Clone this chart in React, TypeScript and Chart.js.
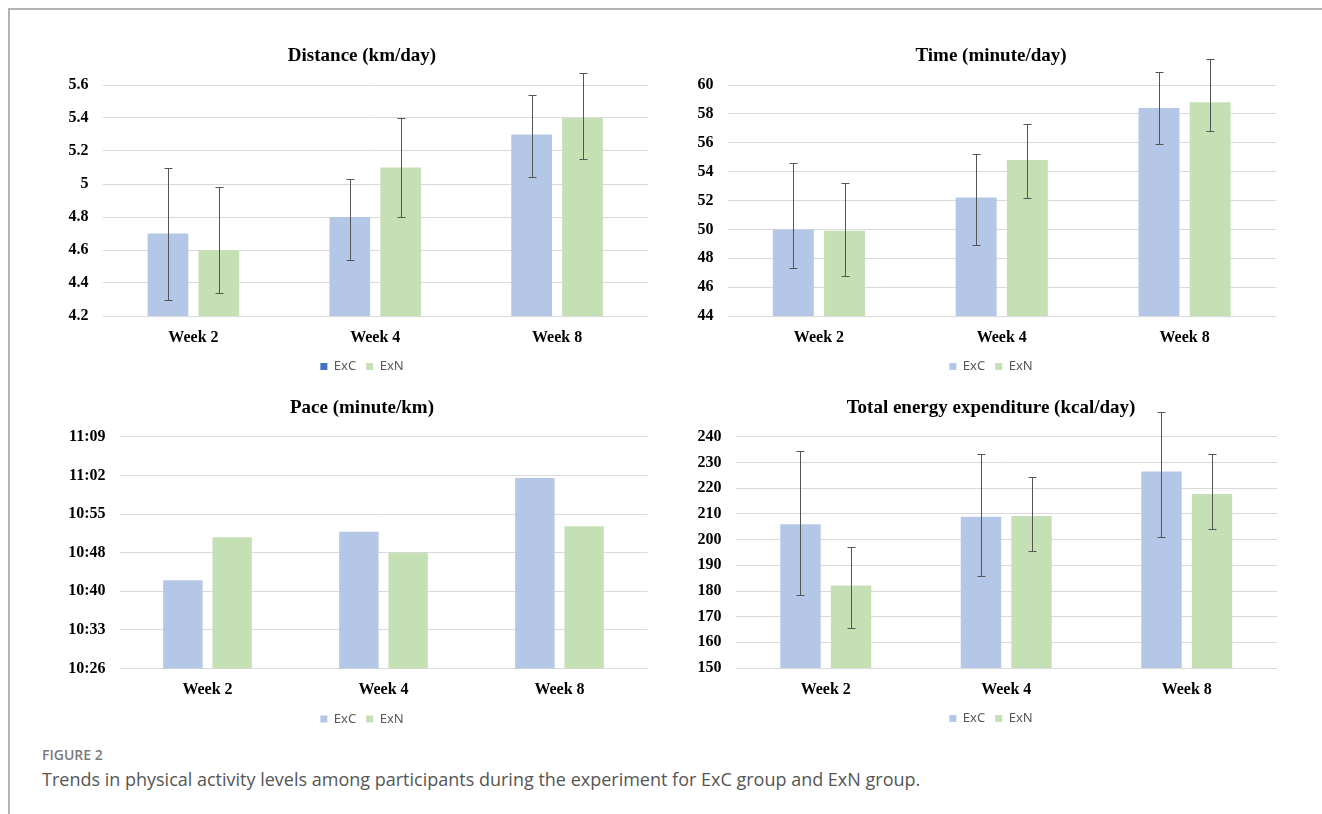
import React, { useEffect, useRef } from "react";
import { Chart } from "chart.js/auto";

// ---------- DATA ----------
const categories = ["Week 2", "Week 4", "Week 8"];
const seriesNames = ["ExC", "ExN"];

// Distance (km/day)
const distExC = [4.7, 4.8, 5.3];
const distExN = [4.6, 5.1, 5.4];
const distExCLow = [4.3, 4.54, 5.04];
const distExCHigh = [5.1, 5.03, 5.54];
const distExNLow = [4.34, 4.8, 5.15];
const distExNHigh = [4.98, 5.4, 5.67];
const distTicks = [4.2, 4.4, 4.6, 4.8, 5.0, 5.2, 5.4, 5.6];
const distTickLabels = ["4.2", "4.4", "4.6", "4.8", "5", "5.2", "5.4", "5.6"];

// Time (minute/day)
const timeExC = [50.0, 52.2, 58.4];
const timeExN = [49.9, 54.8, 58.8];
const timeExCLow = [47.3, 48.9, 55.9];
const timeExCHigh = [54.6, 55.2, 60.9];
const timeExNLow = [46.8, 52.2, 56.8];
const timeExNHigh = [53.2, 57.3, 61.8];
const timeTicks = [44, 46, 48, 50, 52, 54, 56, 58, 60];
const timeTickLabels = ["44", "46", "48", "50", "52", "54", "56", "58", "60"];

// Pace (minute/km), values in seconds (10:26 = 626 s)
const paceExC = [642.4, 651.4, 661.4];
const paceExN = [650.4, 647.5, 652.4];
const paceTicks = [626, 633.17, 640.33, 647.5, 654.67, 661.83, 669];
const paceTickLabels = ["10:26", "10:33", "10:40", "10:48", "10:55", "11:02", "11:09"];

// Total energy expenditure (kcal/day)
const teeExC = [206.0, 208.9, 226.6];
const teeExN = [182.1, 209.2, 217.8];
const teeExCLow = [178.3, 185.7, 201.0];
const teeExCHigh = [234.4, 233.5, 249.6];
const teeExNLow = [165.7, 195.7, 204.1];
const teeExNHigh = [197.0, 224.5, 233.5];
const teeTicks = [150, 160, 170, 180, 190, 200, 210, 220, 230, 240];
const teeTickLabels = ["150", "160", "170", "180", "190", "200", "210", "220", "230", "240"];

// ---------- STYLE ----------
const SERIF = "'Liberation Serif', 'Times New Roman', serif";
const COLOR_EXC = "#b4c7e7";
const COLOR_EXN = "#c5e0b4";
const COLOR_EXC_DARK = "#4472c4";
const GRID = "#d9d9d9";

const errorBarPlugin = {
  id: "errorBars",
  afterDatasetsDraw(chart: any) {
    const { ctx } = chart;
    const yScale = chart.scales.y;
    chart.data.datasets.forEach((ds: any, di: number) => {
      const low = ds.errLow;
      const high = ds.errHigh;
      if (!low || !high) return;
      const meta = chart.getDatasetMeta(di);
      meta.data.forEach((bar: any, i: number) => {
        const x = Math.round(bar.x) + 0.5;
        const yLo = Math.round(yScale.getPixelForValue(low[i])) + 0.5;
        const yHi = Math.round(yScale.getPixelForValue(high[i])) + 0.5;
        ctx.save();
        ctx.strokeStyle = "#555555";
        ctx.lineWidth = 1;
        ctx.beginPath();
        ctx.moveTo(x, yHi);
        ctx.lineTo(x, yLo);
        ctx.moveTo(x - 4, yHi);
        ctx.lineTo(x + 4, yHi);
        ctx.moveTo(x - 4, yLo);
        ctx.lineTo(x + 4, yLo);
        ctx.stroke();
        ctx.restore();
      });
    });
  },
};

type PanelSpec = {
  title: string;
  exc: number[];
  exn: number[];
  excLow?: number[];
  excHigh?: number[];
  exnLow?: number[];
  exnHigh?: number[];
  ticks: number[];
  tickLabels: string[];
  darkLegend?: boolean;
  areaLeft: number;
  areaRight: number;
  areaTop: number;
  areaBottom: number;
  center: number;
};

const TITLE_LINE = 19 * 1.2;
const TITLE_PB = 17.6;
const XAXIS_H = 34;
const LEGEND_H = 33;

function Panel({ spec }: { spec: PanelSpec }) {
  const ref = useRef<HTMLCanvasElement>(null);
  const left = Math.floor(spec.areaLeft - 60);
  const right = Math.ceil(2 * spec.center - left);
  const width = right - left;
  const topExact = spec.areaTop - TITLE_LINE - TITLE_PB;
  const top = Math.floor(topExact);
  const bottomExact = spec.areaBottom + XAXIS_H + LEGEND_H;
  const height = Math.ceil(bottomExact - top);
  const padBottom = top + height - bottomExact;
  const rightAxisWidth = right - spec.areaRight;
  const yWidth = spec.areaLeft - left;

  useEffect(() => {
    const canvas = ref.current;
    if (!canvas) return;
    const chart = new Chart(canvas, {
      type: "bar",
      data: {
        labels: categories,
        datasets: [
          {
            label: seriesNames[0],
            data: spec.exc,
            backgroundColor: COLOR_EXC,
            borderWidth: 0,
            categoryPercentage: 0.56,
            barPercentage: 0.8,
            errLow: spec.excLow,
            errHigh: spec.excHigh,
          } as any,
          {
            label: seriesNames[1],
            data: spec.exn,
            backgroundColor: COLOR_EXN,
            borderWidth: 0,
            categoryPercentage: 0.56,
            barPercentage: 0.8,
            errLow: spec.exnLow,
            errHigh: spec.exnHigh,
          } as any,
        ],
      },
      options: {
        responsive: false,
        maintainAspectRatio: false,
        animation: false,
        events: [],
        layout: { padding: { left: 0, top: 0, right: 0, bottom: padBottom } },
        scales: {
          x: {
            type: "category",
            grid: { display: false, drawTicks: false },
            border: { display: false },
            ticks: {
              color: "#000",
              padding: 12,
              font: { family: SERIF, size: 16, weight: "bold" },
              maxRotation: 0,
            },
            afterFit: (scale: any) => {
              scale.height = XAXIS_H;
            },
          },
          y: {
            type: "linear",
            min: spec.ticks[0],
            max: spec.ticks[spec.ticks.length - 1],
            grid: { color: GRID, lineWidth: 1, drawTicks: false },
            border: { display: false },
            ticks: {
              color: "#000",
              padding: 14,
              font: { family: SERIF, size: 16, weight: "bold" },
              callback: (_v: any, i: number) => spec.tickLabels[i],
            },
            afterBuildTicks: (scale: any) => {
              scale.ticks = spec.ticks.map((v) => ({ value: v }));
            },
            afterFit: (scale: any) => {
              scale.width = yWidth;
            },
          },
          yPad: {
            type: "linear",
            position: "right",
            display: true,
            grid: { display: false, drawTicks: false, drawOnChartArea: false },
            border: { display: false },
            ticks: { display: false },
            afterFit: (scale: any) => {
              scale.width = rightAxisWidth;
            },
          },
        },
        plugins: {
          tooltip: { enabled: false },
          title: {
            display: true,
            text: spec.title,
            color: "#000",
            font: { family: SERIF, size: 19, weight: "bold", lineHeight: 1.2 },
            padding: { top: topExact - top, bottom: TITLE_PB },
          },
          legend: {
            display: true,
            position: "bottom",
            labels: {
              boxWidth: 7,
              boxHeight: 7,
              padding: 10,
              color: "#595959",
              font: { family: "'Noto Sans', sans-serif", size: 13 },
              generateLabels: (c: any) => {
                const items = (Chart as any).defaults.plugins.legend.labels.generateLabels(c);
                items.forEach((it: any, idx: number) => {
                  it.lineWidth = 0;
                  if (idx === 0 && spec.darkLegend) {
                    it.fillStyle = COLOR_EXC_DARK;
                    it.strokeStyle = COLOR_EXC_DARK;
                  }
                });
                return items;
              },
            },
          },
        },
      } as any,
      plugins: [errorBarPlugin],
    });
    return () => chart.destroy();
  }, []);

  return (
    <canvas
      ref={ref}
      width={width}
      height={height}
      style={{ position: "absolute", left, top, width, height }}
    />
  );
}

const panels: PanelSpec[] = [
  {
    title: "Distance (km/day)",
    exc: distExC, exn: distExN,
    excLow: distExCLow, excHigh: distExCHigh, exnLow: distExNLow, exnHigh: distExNHigh,
    ticks: distTicks, tickLabels: distTickLabels, darkLegend: true,
    areaLeft: 102.5, areaRight: 648, areaTop: 85, areaBottom: 316, center: 362,
  },
  {
    title: "Time (minute/day)",
    exc: timeExC, exn: timeExN,
    excLow: timeExCLow, excHigh: timeExCHigh, exnLow: timeExNLow, exnHigh: timeExNHigh,
    ticks: timeTicks, tickLabels: timeTickLabels,
    areaLeft: 727.5, areaRight: 1276, areaTop: 85, areaBottom: 316, center: 991,
  },
  {
    title: "Pace (minute/km)",
    exc: paceExC, exn: paceExN,
    ticks: paceTicks, tickLabels: paceTickLabels,
    areaLeft: 119.5, areaRight: 647.5, areaTop: 437, areaBottom: 668.5, center: 362,
  },
  {
    title: "Total energy expenditure (kcal/day)",
    exc: teeExC, exn: teeExN,
    excLow: teeExCLow, excHigh: teeExCHigh, exnLow: teeExNLow, exnHigh: teeExNHigh,
    ticks: teeTicks, tickLabels: teeTickLabels,
    areaLeft: 735.5, areaRight: 1277, areaTop: 437, areaBottom: 668, center: 991,
  },
];

export default function App() {
  return (
    <div
      style={{
        position: "absolute",
        left: 0,
        top: 0,
        width: 1322,
        height: 814,
        background: "#fff",
        overflow: "hidden",
      }}
    >
      <div
        style={{
          position: "absolute",
          left: 8,
          top: 8,
          width: 1314,
          height: 806,
          borderTop: "2px solid #b3b3b3",
          borderLeft: "2px solid #b3b3b3",
          boxSizing: "border-box",
        }}
      />
      {panels.map((p, i) => (
        <Panel key={i} spec={p} />
      ))}
      <div
        style={{
          position: "absolute",
          left: 42,
          top: 748,
          fontFamily: "'Open Sans', sans-serif",
          fontWeight: 600,
          fontSize: 14,
          lineHeight: "14px",
          color: "#7a7a7a",
          whiteSpace: "nowrap",
        }}
      >
        FIGURE 2
      </div>
      <div
        style={{
          position: "absolute",
          left: 42,
          top: 770,
          fontFamily: "'Open Sans', sans-serif",
          fontWeight: 400,
          fontSize: 18,
          lineHeight: "18px",
          color: "#555",
          whiteSpace: "nowrap",
        }}
      >
        Trends in physical activity levels among participants during the experiment for ExC group and ExN group.
      </div>
    </div>
  );
}
